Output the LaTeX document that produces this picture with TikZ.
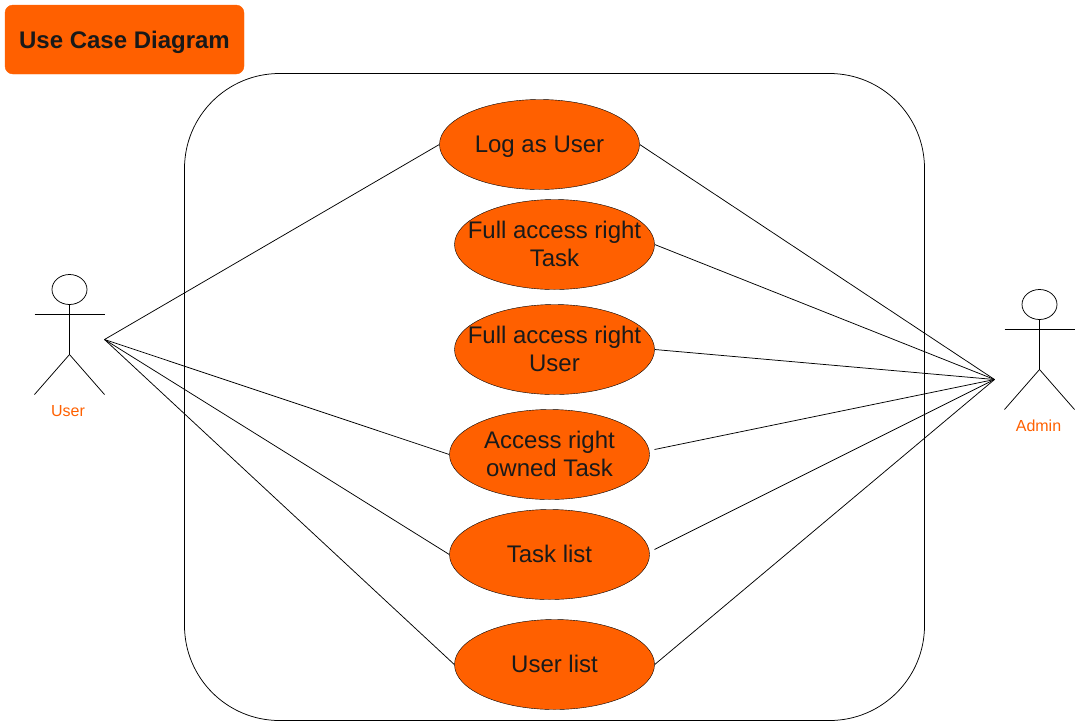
\documentclass[tikz,border=0pt]{standalone}
\usepackage{fontspec}
\setmainfont{Liberation Sans}
\usetikzlibrary{shapes.geometric}
\definecolor{fillorange}{HTML}{FF6000}
\definecolor{inkdark}{HTML}{1A1A1A}
\tikzset{
  usecase/.style={draw=black, fill=fillorange, ellipse, minimum width=200pt, minimum height=90pt, inner xsep=-20pt, inner ysep=0pt, align=center, text=inkdark, font=\fontsize{24}{28}\selectfont},
  oneline/.style={usecase, execute at begin node={\rule{0pt}{20pt}}, execute at end node={\rule[-4pt]{0pt}{4pt}}},
  twolines/.style={usecase, execute at end node={\rule[-2pt]{0pt}{2pt}}},
  actorlabel/.style={text=fillorange, font=\fontsize{16}{18}\selectfont, inner sep=0pt},
  titlebox/.style={draw=fillorange, fill=fillorange, rounded corners=8pt, minimum width=239pt, minimum height=69pt, inner sep=0pt, text=black!90, font=\bfseries\fontsize{24}{28}\selectfont, execute at begin node={\rule{0pt}{24pt}}, execute at end node={\rule[-4pt]{0pt}{4pt}}},
  link/.style={draw=black, line width=0.75pt},
  x=1pt, y=-1pt
}
\begin{document}
\begin{tikzpicture}
  \useasboundingbox (0,0) rectangle (1075,721);
  \node[titlebox] (title) at (124.5,39.5) {Use Case Diagram};
  \draw[link, rounded corners=95pt] (184.5,73.5) rectangle (924.5,720.5);
  % use cases
  \node[oneline] (log) at (539.5,144.5) {Log as User};
  \node[twolines] (fulltask) at (554.5,244.5) {Full access right\\Task};
  \node[twolines] (fulluser) at (554.5,349.5) {Full access right\\User};
  \node[twolines] (owned) at (549.5,454.5) {Access right\\owned Task};
  \node[oneline] (tasks) at (549.5,554.5) {Task list};
  \node[oneline] (users) at (554.5,664.5) {User list};
  % user actor
  \coordinate (userhand) at (104.5,339.5);
  \node[draw=black, ellipse, minimum width=35pt, minimum height=30pt, inner sep=0pt, line width=0.75pt] (userhead) at (69.5,289.5) {};
  \coordinate (userhip) at (69.5,354.5);
  \coordinate (userarml) at (34.5,314.5);
  \coordinate (userarmr) at (104.5,314.5);
  \coordinate (userfootl) at (34.5,394.5);
  \coordinate (userfootr) at (104.5,394.5);
  \draw[link] (userhead) -- (userhip) -- (userfootl);
  \draw[link] (userhip) -- (userfootr);
  \draw[link] (userarml) -- (userarmr);
  \node[actorlabel] (userlabel) at (68,411) {User};
  % admin actor
  \coordinate (adminhand) at (994.5,379.5);
  \node[draw=black, ellipse, minimum width=35pt, minimum height=30pt, inner sep=0pt, line width=0.75pt] (adminhead) at (1039.5,304.5) {};
  \coordinate (adminhip) at (1039.5,369.5);
  \coordinate (adminarml) at (1004.5,329.5);
  \coordinate (adminarmr) at (1074.5,329.5);
  \coordinate (adminfootl) at (1004.5,409.5);
  \coordinate (adminfootr) at (1074.5,409.5);
  \draw[link] (adminhead) -- (adminhip) -- (adminfootl);
  \draw[link] (adminhip) -- (adminfootr);
  \draw[link] (adminarml) -- (adminarmr);
  \node[actorlabel] (adminlabel) at (1038.5,426) {Admin};
  % free ends right of the ellipses
  \coordinate (ownedend) at (654.5,449.5);
  \coordinate (tasksend) at (654.5,549.5);
  % connectors
  \draw[link] (userhand) -- (log.west);
  \draw[link] (userhand) -- (owned.west);
  \draw[link] (userhand) -- (tasks.west);
  \draw[link] (userhand) -- (users.west);
  \foreach \n in {log,fulltask,fulluser,users}
    \draw[link] (adminhand) -- (\n.east);
  \draw[link] (adminhand) -- (ownedend);
  \draw[link] (adminhand) -- (tasksend);
\end{tikzpicture}
\end{document}
